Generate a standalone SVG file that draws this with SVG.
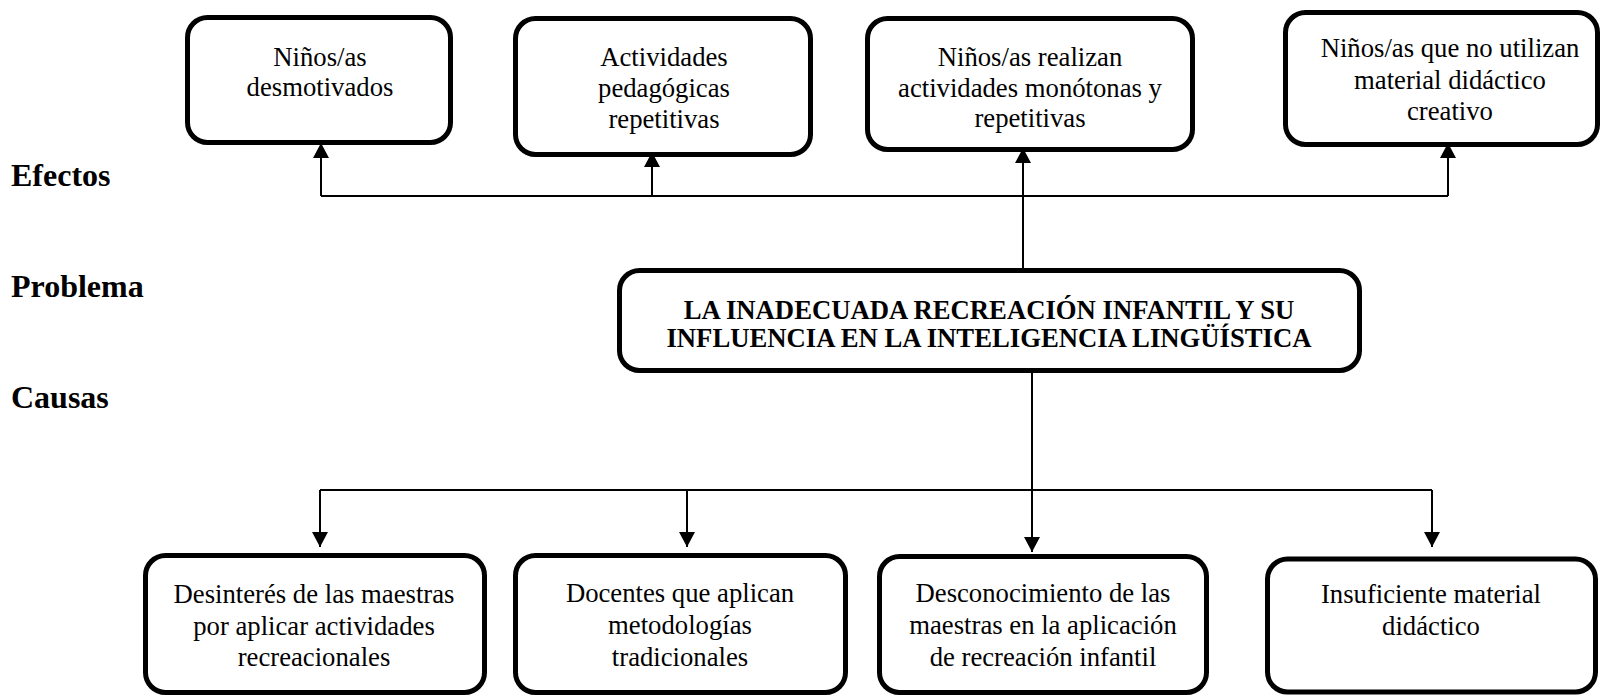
<svg xmlns="http://www.w3.org/2000/svg" width="1602" height="698" viewBox="0 0 1602 698">
<style>
.box{fill:#fff;stroke:#000;stroke-width:5}
.t{font-family:"Liberation Serif","Times New Roman",serif;font-size:26.7px;fill:#000;text-anchor:middle}
.b{font-family:"Liberation Serif","Times New Roman",serif;font-weight:bold;fill:#000}
.ln{stroke:#000;stroke-width:2;fill:none}
</style>
<defs>
<marker id="ah" viewBox="0 0 15 16" refX="15" refY="8" markerWidth="15" markerHeight="16" markerUnits="userSpaceOnUse" orient="auto"><path d="M0,0 L15,8 L0,16 z" fill="#000"/></marker>
</defs>
<rect width="1602" height="698" fill="#fff"/>
<g id="labels">
<text class="b" x="11" y="186" font-size="32">Efectos</text>
<text class="b" x="11" y="297" font-size="32">Problema</text>
<text class="b" x="11" y="408" font-size="32">Causas</text>
</g>
<g id="connectors">
<path class="ln" d="M321,196 H1448"/>
<path class="ln" d="M321,196 V143" marker-end="url(#ah)"/>
<path class="ln" d="M652,196 V152" marker-end="url(#ah)"/>
<path class="ln" d="M1448,196 V143" marker-end="url(#ah)"/>
<path class="ln" d="M1023,268 V148" marker-end="url(#ah)"/>
<path class="ln" d="M1032,373 V552" marker-end="url(#ah)"/>
<path class="ln" d="M320,490 H1432"/>
<path class="ln" d="M320,490 V547" marker-end="url(#ah)"/>
<path class="ln" d="M687,490 V547" marker-end="url(#ah)"/>
<path class="ln" d="M1432,490 V547" marker-end="url(#ah)"/>
</g>
<g id="efecto1">
<rect class="box" x="187.5" y="17.5" width="263" height="125" rx="20"/>
<text class="t" x="320" y="66">Niños/as</text>
<text class="t" x="320" y="96">desmotivados</text>
</g>
<g id="efecto2">
<rect class="box" x="515.5" y="18.5" width="295" height="136" rx="20"/>
<text class="t" x="664" y="66">Actividades</text>
<text class="t" x="664" y="97">pedagógicas</text>
<text class="t" x="664" y="128">repetitivas</text>
</g>
<g id="efecto3">
<rect class="box" x="867.5" y="18.5" width="325" height="131" rx="20"/>
<text class="t" x="1030" y="66">Niños/as realizan</text>
<text class="t" x="1030" y="97">actividades monótonas y</text>
<text class="t" x="1030" y="127">repetitivas</text>
</g>
<g id="efecto4">
<rect class="box" x="1285.5" y="12.5" width="312" height="132" rx="20"/>
<text class="t" x="1450" y="57">Niños/as que no utilizan</text>
<text class="t" x="1450" y="89">material didáctico</text>
<text class="t" x="1450" y="120">creativo</text>
</g>
<g id="problema">
<rect class="box" x="619.5" y="270.5" width="740" height="100" rx="20"/>
<text class="t" x="989" y="319" font-weight="bold">LA INADECUADA RECREACIÓN INFANTIL Y SU</text>
<text class="t" x="989" y="347" font-weight="bold">INFLUENCIA EN LA INTELIGENCIA LINGÜÍSTICA</text>
</g>
<g id="causa1">
<rect class="box" x="145.5" y="555.5" width="339" height="137" rx="20"/>
<text class="t" x="314" y="603">Desinterés de las maestras</text>
<text class="t" x="314" y="635">por aplicar actividades</text>
<text class="t" x="314" y="666">recreacionales</text>
</g>
<g id="causa2">
<rect class="box" x="515.5" y="555.5" width="330" height="137" rx="20"/>
<text class="t" x="680" y="602">Docentes que aplican</text>
<text class="t" x="680" y="634">metodologías</text>
<text class="t" x="680" y="666">tradicionales</text>
</g>
<g id="causa3">
<rect class="box" x="879.5" y="556.5" width="327" height="136" rx="20"/>
<text class="t" x="1043" y="602">Desconocimiento de las</text>
<text class="t" x="1043" y="634">maestras en la aplicación</text>
<text class="t" x="1043" y="666">de recreación infantil</text>
</g>
<g id="causa4">
<rect class="box" x="1267.5" y="559" width="328" height="133" rx="20"/>
<text class="t" x="1431" y="603">Insuficiente material</text>
<text class="t" x="1431" y="635">didáctico</text>
</g>
</svg>
